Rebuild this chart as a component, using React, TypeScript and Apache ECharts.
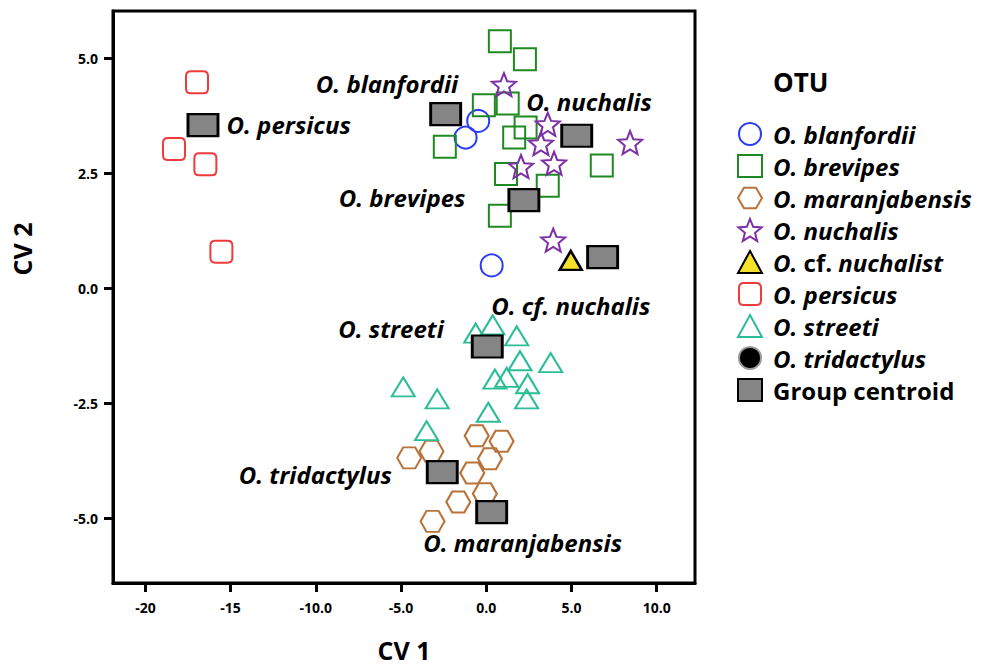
import React, { useEffect, useRef } from "react";
import * as echarts from "echarts";

const FONT = '"Open Sans", "Noto Sans", sans-serif';

// ---- data (CV1, CV2) ----
const blanfordii = [[-0.47, 3.64], [-1.21, 3.28], [0.32, 0.5]];
const brevipes = [
  [0.8, 5.37], [2.27, 4.98], [-0.14, 3.98], [1.26, 4.02], [-2.43, 3.08], [2.31, 3.5],
  [1.64, 3.28], [6.78, 2.67], [1.16, 2.49], [3.61, 2.23], [0.8, 1.58],
];
const maranjabensis = [
  [-0.56, -3.2], [0.9, -3.32], [-3.21, -3.54], [-4.52, -3.68], [0.22, -3.7],
  [-0.82, -4.01], [-0.08, -4.46], [-1.64, -4.64], [-3.15, -5.06],
];
const nuchalis = [[1.04, 4.43], [3.61, 3.57], [3.21, 3.15], [2.04, 2.65], [3.98, 2.72], [8.44, 3.17], [3.93, 1.05]];
const cfNuchalis = [[4.96, 0.61]];
const persicus = [[-16.97, 4.48], [-18.32, 3.03], [-16.48, 2.7], [-15.54, 0.8]];
const streeti = [
  [0.38, -0.79], [-0.62, -0.97], [1.79, -1.03], [1.98, -1.57], [3.78, -1.61], [0.51, -1.97],
  [1.2, -1.93], [2.43, -2.07], [2.37, -2.4], [-4.87, -2.14], [-2.88, -2.4], [0.12, -2.69], [-3.5, -3.09],
];
const tridactylus: number[][] = [];

const centroidNames = [
  "O. blanfordii", "O. brevipes", "O. maranjabensis", "O. nuchalis",
  "O. cf. nuchalis", "O. persicus", "O. streeti", "O. tridactylus",
];
const centroidX = [-2.38, 2.21, 0.32, 5.31, 6.83, -16.62, 0.06, -2.58];
const centroidY = [3.79, 1.92, -4.86, 3.32, 0.68, 3.55, -1.26, -3.99];

const xTicks = [-20, -15, -10, -5, 0, 5, 10];
const yTicks = [-5, -2.5, 0, 2.5, 5];

// ---- styling (kept apart from the data) ----
const centroidLabelLayout = [
  { align: "right", dx: 14, dy: -30 },
  { align: "right", dx: -57, dy: -2 },
  { align: "left", dx: -67, dy: 31 },
  { align: "left", dx: -49, dy: -33 },
  { align: "left", dx: -110, dy: 49 },
  { align: "left", dx: 25, dy: 0 },
  { align: "right", dx: -42, dy: -17 },
  { align: "right", dx: -49, dy: 3 },
];

const STAR =
  "path://M50,0 L62.93,32.2 L97.55,34.55 L70.92,56.8 L79.39,90.45 L50,72 L20.61,90.45 L29.08,56.8 L2.45,34.55 L37.07,32.2 Z";
const HEX = "path://M0,50 L25,7 L75,7 L100,50 L75,93 L25,93 Z";
const RSQ =
  "path://M22,0 L78,0 Q100,0 100,22 L100,78 Q100,100 78,100 L22,100 Q0,100 0,78 L0,22 Q0,0 22,0 Z";

const CENTROID_W = 30;
const CENTROID_H = 22;
const LABEL_SIZE = 24;

function hollow(c: string) {
  return { color: "rgba(0,0,0,0)", borderColor: c, borderWidth: 2, opacity: 1 };
}

export default function App() {
  const ref = useRef<HTMLDivElement>(null);

  useEffect(() => {
    if (!ref.current) return;
    const chart = echarts.init(ref.current, undefined, { renderer: "svg" });

    const centroidData = centroidNames.map((n, i) => {
      const l = centroidLabelLayout[i];
      return {
        name: n,
        value: [centroidX[i], centroidY[i]],
        label: {
          show: true,
          formatter: n,
          position: [CENTROID_W / 2 + l.dx, CENTROID_H / 2 + l.dy],
          align: l.align,
          verticalAlign: "middle",
          fontFamily: FONT,
          fontSize: LABEL_SIZE,
          fontWeight: "bold",
          fontStyle: "italic",
          color: "#000",
        },
      };
    });

    const base = { type: "scatter", emphasis: { disabled: true }, z: 3 };
    const rich = (italic: boolean) => ({
      fontFamily: FONT,
      fontSize: LABEL_SIZE,
      lineHeight: 24,
      fontWeight: "bold",
      fontStyle: italic ? "italic" : "normal",
      color: "#000",
    });

    const option: any = {
      animation: false,
      textStyle: { fontFamily: FONT },
      grid: { left: 113, top: 11, width: 582, height: 572, show: true, borderColor: "#000", borderWidth: 3, outerBoundsMode: "none" },
      title: {
        text: "OTU",
        left: 773,
        top: 69,
        padding: 0,
        textStyle: { fontFamily: FONT, fontSize: 26, fontWeight: "bold", color: "#000" },
      },
      legend: {
        orient: "vertical",
        left: 737,
        top: 122,
        padding: 0,
        itemWidth: 24,
        itemHeight: 22,
        itemGap: 8,
        selectedMode: false,
        data: [
          { name: "O. blanfordii", icon: "circle" },
          { name: "O. brevipes", icon: "rect" },
          { name: "O. maranjabensis", icon: HEX },
          { name: "O. nuchalis", icon: STAR },
          { name: "O. cf. nuchalist", icon: "triangle" },
          { name: "O. persicus", icon: RSQ },
          { name: "O. streeti", icon: "triangle" },
          { name: "O. tridactylus", icon: "circle" },
          { name: "Group centroid", icon: "rect" },
        ],
        formatter: (name: string) => {
          if (name === "Group centroid") return "{g|Group centroid}";
          if (name === "O. cf. nuchalist") return "{i|O.} {n|cf.} {i|nuchalist}";
          return "{i|" + name + "}";
        },
        textStyle: {
          fontFamily: FONT,
          fontSize: LABEL_SIZE,
          lineHeight: 24,
          padding: [0, 0, 0, 6],
          color: "#000",
          rich: { i: rich(true), n: rich(false), g: rich(false) },
        },
      },
      xAxis: {
        type: "value",
        min: -21.9,
        max: 12.25,
        name: "CV 1",
        nameLocation: "middle",
        nameGap: 54,
        nameTextStyle: { fontFamily: FONT, fontSize: 25, lineHeight: 25, fontWeight: "bold", color: "#000" },
        splitLine: { show: false },
        axisLine: { show: true, onZero: false, lineStyle: { color: "#000", width: 3 } },
        axisTick: { show: true, length: 9, customValues: xTicks, lineStyle: { color: "#000", width: 3 } },
        axisLabel: {
          customValues: xTicks,
          margin: 17,
          fontFamily: FONT,
          fontSize: 14,
          fontWeight: "bold",
          color: "#000",
          formatter: (v: number) => (v <= -15 ? String(v) : v.toFixed(1)),
        },
      },
      yAxis: {
        type: "value",
        min: -6.4,
        max: 6.03,
        splitLine: { show: false },
        axisLine: { show: true, onZero: false, lineStyle: { color: "#000", width: 3 } },
        axisTick: { show: true, length: 9, customValues: yTicks, lineStyle: { color: "#000", width: 3 } },
        axisLabel: {
          customValues: yTicks,
          margin: 15,
          fontFamily: FONT,
          fontSize: 14,
          fontWeight: "bold",
          color: "#000",
          formatter: (v: number) => v.toFixed(1),
        },
      },
      graphic: [
        {
          type: "text",
          x: 22,
          y: 249,
          rotation: Math.PI / 2,
          style: {
            text: "CV 2",
            fontFamily: FONT,
            fontSize: 25,
            fontWeight: "bold",
            fill: "#000",
            align: "center",
            verticalAlign: "middle",
          },
        },
      ],
      series: [
        { ...base, name: "O. blanfordii", data: blanfordii, symbol: "circle", symbolSize: 22, itemStyle: hollow("#2b3cf2") },
        { ...base, name: "O. brevipes", data: brevipes, symbol: "rect", symbolSize: 22, itemStyle: hollow("#1f8a22") },
        { ...base, name: "O. maranjabensis", data: maranjabensis, symbol: HEX, symbolSize: [24, 21], itemStyle: hollow("#b8733a") },
        { ...base, name: "O. nuchalis", data: nuchalis, symbol: STAR, symbolSize: [24, 23], itemStyle: hollow("#7d2fa6") },
        {
          ...base, name: "O. cf. nuchalist", data: cfNuchalis, symbol: "triangle", symbolSize: [22, 19],
          itemStyle: { color: "#f5e12a", borderColor: "#000", borderWidth: 2.5, opacity: 1 },
        },
        { ...base, name: "O. persicus", data: persicus, symbol: RSQ, symbolSize: 22, itemStyle: hollow("#ef3b3b") },
        { ...base, name: "O. streeti", data: streeti, symbol: "triangle", symbolSize: [23, 19], itemStyle: hollow("#2bbd96") },
        {
          ...base, name: "O. tridactylus", data: tridactylus, symbol: "circle", symbolSize: 20,
          itemStyle: { color: "#000", borderColor: "#9a9a9a", borderWidth: 3, opacity: 1 },
        },
        {
          ...base, name: "Group centroid", data: centroidData, symbol: "rect", symbolSize: [CENTROID_W, CENTROID_H], z: 5,
          itemStyle: { color: "#858585", borderColor: "#000", borderWidth: 2.5, opacity: 1 },
        },
      ],
    };

    chart.setOption(option);
    return () => chart.dispose();
  }, []);

  return <div ref={ref} style={{ position: "absolute", left: 0, top: 0, width: 982, height: 665 }} />;
}
